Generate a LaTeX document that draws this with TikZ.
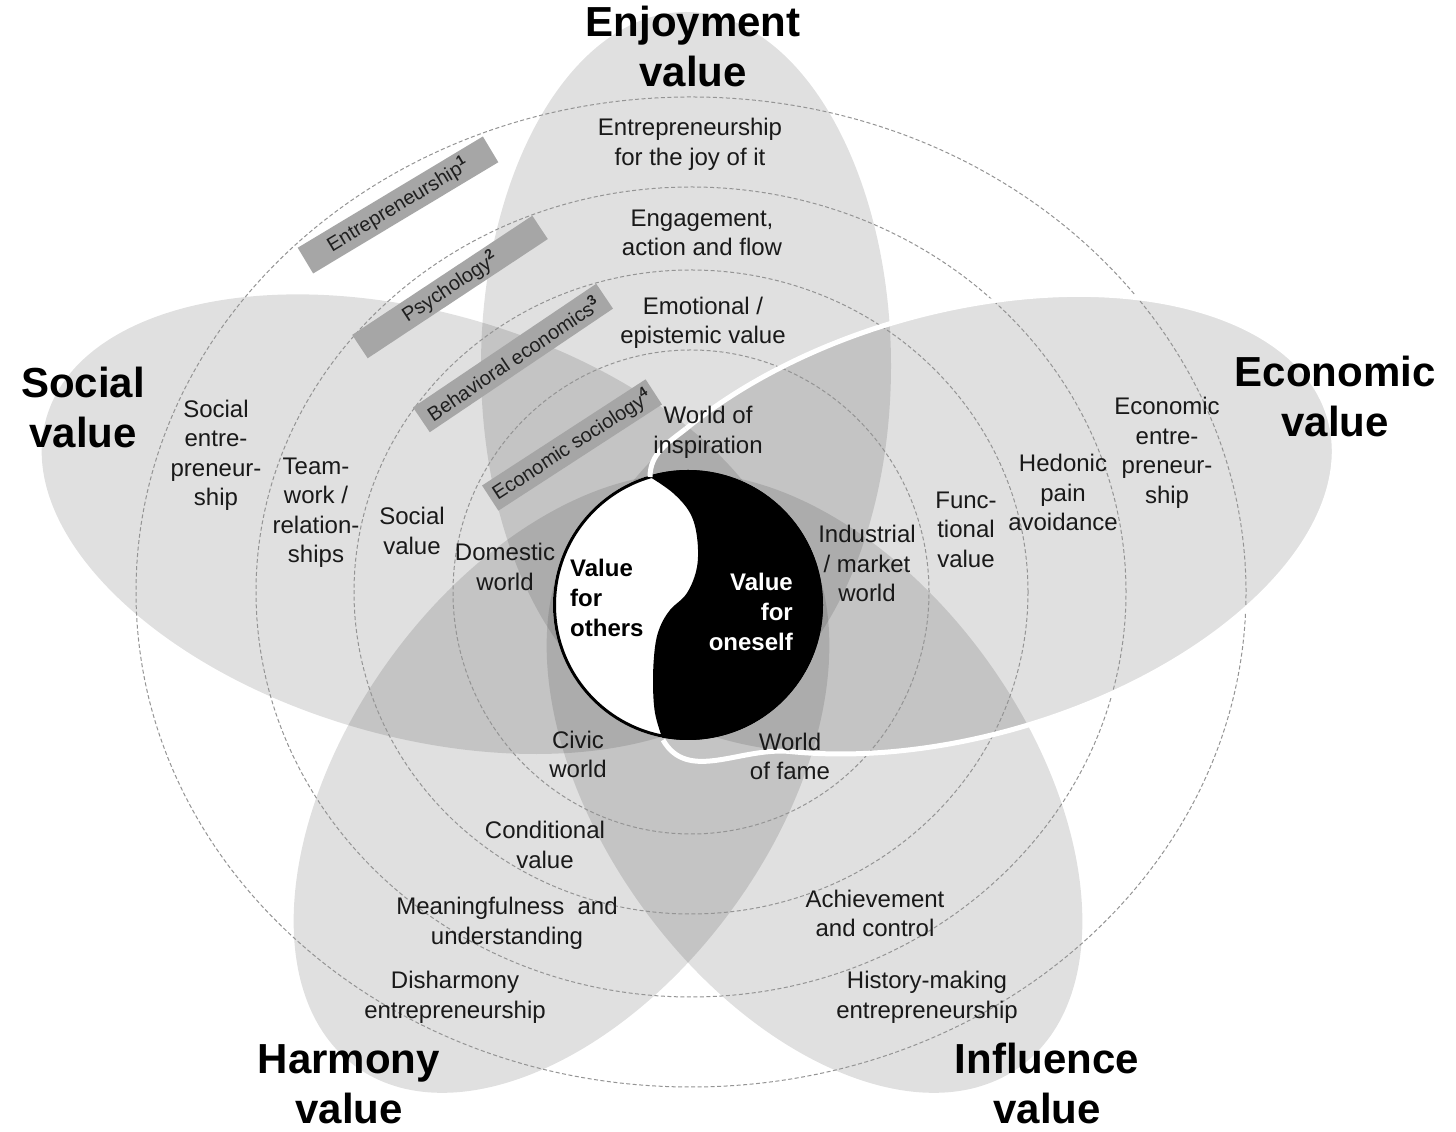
\documentclass[tikz,border=0pt]{standalone}
\usepackage{fontspec}
\setmainfont{Liberation Sans}
\begin{document}
\begin{tikzpicture}[x=1pt,y=1pt,
  petal/.style={fill=black, fill opacity=0.12},
  ring/.style={draw=black!42, line width=1pt, dash pattern=on 4pt off 2.5pt},
  band/.style={fill=black!35, minimum height=30pt, inner sep=0pt, font=\fontsize{20}{22}\selectfont, text=black!88},
  lbl/.style={align=center, font=\fontsize{24}{29.5}\selectfont, text=black!90, inner sep=0pt},
  ttl/.style={align=center, font=\fontsize{42}{50}\bfseries\selectfont, inner sep=0pt},
  yy/.style={font=\fontsize{24}{30}\bfseries\selectfont, inner sep=0pt},
  wline/.style={draw=white, line width=5pt}
]
\useasboundingbox (0,0) rectangle (1456,1132);
\fill[white] (0,0) rectangle (1456,1132);

% petals
\fill[petal] (686,766) ellipse [x radius=205, y radius=354];
\fill[petal, rotate around={16:(959.6,607.8)}] (959.6,607.8) ellipse [x radius=385, y radius=212];
\fill[petal, rotate around={-16:(416.4,607.8)}] (416.4,607.8) ellipse [x radius=385, y radius=212];
\fill[petal, rotate around={54:(561.5,348.6)}] (561.5,348.6) ellipse [x radius=350, y radius=212];
\fill[petal, rotate around={-54:(814.5,348.6)}] (814.5,348.6) ellipse [x radius=350, y radius=212];

% dashed rings
\coordinate (rc) at (691,540);
\draw[ring] (rc) ellipse [x radius=238, y radius=242];
\draw[ring] (rc) ellipse [x radius=337, y radius=322];
\draw[ring] (rc) ellipse [x radius=435, y radius=405];
\draw[ring] (rc) ellipse [x radius=555, y radius=495];

% discipline bands
\node[band, rotate=31, minimum width=216] (b1) at (398,927) {Entrepreneurship\textsuperscript{\bfseries 1}};
\node[band, rotate=33.5, minimum width=216, minimum height=28pt] (b2) at (450,845) {Psychology\textsuperscript{\bfseries 2}};
\node[band, rotate=34, minimum width=221] (b3) at (513,774) {Behavioral economics\textsuperscript{\bfseries 3}};
\node[band, rotate=33, minimum width=195] (b4) at (572,687) {Economic sociology\textsuperscript{\bfseries 4}};

% yin-yang
\coordinate (yc) at (688,527);
\fill[white] (yc) circle (135);
\begin{scope}
  \clip (650,690) -- plot[smooth, tension=0.6] coordinates {(650,655) (673,639) (690,619) (697,595) (697,565) (687,539) (670,522) (660,505) (655,485) (653,452) (655,419) (663,392)} -- (666,360) -- (860,360) -- (860,690) -- cycle;
  \fill[black] (yc) circle (135);
\end{scope}
\draw[black, line width=3pt] (yc) circle (133.5);
\coordinate (yyT) at (650,655);
\coordinate (yyB) at (663,392);

% white outline of the economic petal
\begin{scope}[shift={(959.6,607.8)}, rotate=16]
  \draw[wline] (128:385 and 212) arc[start angle=128, end angle=-126, x radius=385, y radius=212];
  \coordinate (ecA) at (128:385 and 212);
  \coordinate (ecB) at (-126:385 and 212);
\end{scope}
\draw[wline] (yyT) to[out=90, in=218] (ecA);
\draw[wline] (ecB) to[out=175, in=-60] (yyB);

% titles
\node[ttl] (tE) at (693,1085) {Enjoyment\\value};
\node[ttl] (tS) at (83,725) {Social\\value};
\node[ttl] (tEc) at (1335,736) {Economic\\value};
\node[ttl] (tH) at (349,48) {Harmony\\value};
\node[ttl] (tI) at (1047,49) {Influence\\value};

% labels
\node[lbl] (l1) at (690,987.5) {Entrepreneurship\\for the joy of it};
\node[lbl] (l2) at (702,899) {Engagement,\\action and flow};
\node[lbl] (l3) at (703,809) {Emotional /\\epistemic value};
\node[lbl] (l4) at (708,699.5) {World of\\inspiration};
\node[lbl] (l5) at (216,676.5) {Social\\entre-\\preneur-\\ship};
\node[lbl] (l6) at (316,619.5) {Team-\\work /\\relation-\\ships};
\node[lbl] (l7) at (412,601) {Social\\value};
\node[lbl] (l8) at (505,565) {Domestic\\world};
\node[lbl] (l9) at (867,568.5) {Industrial\\/ market\\world};
\node[lbl] (l10) at (966,602.5) {Func-\\tional\\value};
\node[lbl] (l11) at (1063,639.5) {Hedonic\\pain\\avoidance};
\node[lbl] (l12) at (1167,679) {Economic\\entre-\\preneur-\\ship};
\node[lbl] (l13) at (578,377.5) {Civic\\world};
\node[lbl] (l14) at (790,375.5) {World\\of fame};
\node[lbl] (l15) at (545,287) {Conditional\\value};
\node[lbl] (l16) at (507,208.5) {Meaningfulness~ and\\understanding};
\node[lbl] (l17) at (455,134.5) {Disharmony\\entrepreneurship};
\node[lbl] (l18) at (875,218.5) {Achievement\\and control};
\node[lbl] (l19) at (927,134.5) {History-making\\entrepreneurship};

% yin-yang texts
\node[yy, anchor=west, align=left] (vo) at (570,534) {Value\\for\\others};
\node[yy, anchor=east, align=right, text=white] (vs) at (793,520) {Value\\for\\oneself};
\end{tikzpicture}
\end{document}
